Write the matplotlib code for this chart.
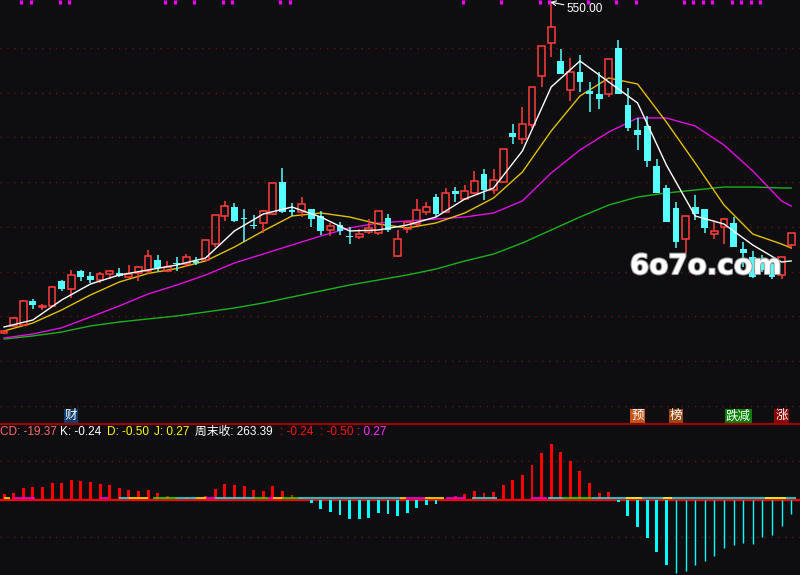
import numpy as np
import matplotlib
matplotlib.use('Agg')
import matplotlib.pyplot as plt
import matplotlib.patheffects as pe
from matplotlib.lines import Line2D

plt.rcParams['font.family'] = ['Liberation Sans', 'Noto Sans CJK SC']

# weekly candles (open, high, low, close)
opens = [139.6, 148.3, 149.5, 179.3, 171.8, 173.1, 204.1, 194.1, 216.5, 210.3,
         205.3, 212.7, 214.0, 209.0, 214.0, 216.5, 230.1, 216.5, 226.4, 225.1,
         228.9, 230.1, 249.9, 284.7, 295.8, 282.2, 273.5, 276.0, 287.1, 326.8,
         292.1, 289.6, 293.3, 284.7, 267.3, 273.5, 259.9, 258.6, 264.8, 263.6,
         282.2, 235.1, 268.5, 274.7, 289.6, 308.2, 289.6, 315.7, 305.7, 313.2,
         336.7, 316.9, 326.8, 387.6, 380.1, 397.5, 458.3, 499.2, 476.9, 440.9,
         463.2, 439.7, 435.9, 435.9, 493.0, 422.3, 391.3, 396.3, 346.7, 319.4,
         294.6, 256.1, 295.8, 293.3, 262.3, 271.0, 276.0, 243.7, 233.8, 231.3,
         225.1, 211.5, 248.7]
highs = [143.3, 159.4, 180.5, 181.7, 175.5, 197.9, 205.3, 217.7, 217.7, 215.2,
         215.2, 217.7, 220.2, 223.9, 222.7, 242.5, 236.3, 228.9, 233.8, 237.5,
         233.8, 254.9, 285.9, 303.3, 300.8, 293.3, 285.9, 292.1, 325.6, 344.2,
         300.8, 308.2, 293.3, 290.9, 276.0, 277.2, 271.0, 268.5, 280.9, 290.9,
         287.1, 267.3, 277.2, 305.7, 302.0, 311.9, 319.4, 320.6, 323.1, 340.5,
         342.9, 342.9, 367.7, 398.7, 419.8, 444.6, 495.5, 550.0, 491.7, 480.6,
         484.3, 450.8, 463.2, 479.3, 502.9, 443.4, 406.2, 408.7, 355.3, 323.1,
         302.0, 284.7, 310.7, 293.3, 279.7, 282.2, 283.4, 252.4, 241.3, 236.3,
         227.6, 233.8, 263.6]
lows = [138.3, 148.3, 148.3, 169.3, 168.1, 171.8, 191.7, 183.0, 204.1, 201.6,
        201.6, 206.5, 209.0, 207.8, 204.1, 212.7, 216.5, 215.2, 216.5, 221.4,
        223.9, 228.9, 246.2, 278.5, 277.2, 252.4, 268.5, 263.6, 285.9, 288.4,
        284.7, 283.4, 271.0, 261.1, 259.9, 261.1, 249.9, 256.1, 262.3, 261.1,
        264.8, 233.8, 263.6, 272.3, 285.9, 283.4, 288.4, 302.0, 304.5, 311.9,
        304.5, 311.9, 325.6, 373.9, 373.9, 393.8, 444.6, 481.8, 460.7, 427.3,
        438.4, 413.6, 417.3, 432.2, 435.9, 390.1, 366.5, 345.4, 313.2, 277.2,
        245.0, 238.8, 279.7, 263.6, 256.1, 249.9, 246.2, 221.4, 207.8, 215.2,
        206.5, 206.5, 243.7]
closes = [142.1, 158.2, 179.3, 174.3, 173.1, 196.6, 194.1, 211.5, 209.0, 205.3,
          212.7, 216.5, 210.3, 212.7, 221.4, 235.1, 220.2, 221.4, 225.1, 233.8,
          226.4, 254.9, 285.9, 297.1, 278.5, 280.9, 272.3, 290.9, 325.6, 289.6,
          289.6, 299.5, 280.9, 266.1, 272.3, 266.1, 258.6, 262.3, 269.8, 290.9,
          267.3, 256.1, 277.2, 292.1, 295.8, 287.1, 313.2, 311.9, 315.7, 328.1,
          316.9, 329.3, 367.7, 382.6, 398.7, 444.6, 495.5, 519.0, 460.7, 463.2,
          450.8, 435.9, 429.7, 479.3, 435.9, 393.8, 385.1, 352.9, 313.2, 277.2,
          252.4, 284.7, 287.1, 269.8, 266.1, 280.9, 246.2, 238.8, 209.0, 217.7,
          209.0, 233.8, 263.39]

# moving averages sampled every third week
ma_idx = [0, 3, 6, 9, 12, 15, 18, 21, 24, 27, 30, 33, 36, 39, 42, 45, 48, 51,
          54, 57, 60, 63, 66, 69, 72, 75, 78, 81, 82]
ma5 = [147.0, 155.7, 180.5, 200.3, 211.5, 217.7, 223.9, 232.6, 266.1, 287.1,
       295.8, 283.4, 266.1, 267.3, 273.5, 283.4, 305.7, 319.4, 365.3, 444.6,
       476.9, 450.8, 424.8, 347.9, 284.7, 274.7, 248.7, 227.6, 228.9]
ma10 = [142.1, 152.0, 168.1, 186.7, 202.8, 213.4, 219.6, 228.9, 246.2, 266.1,
        284.7, 288.4, 283.4, 274.7, 269.8, 276.0, 288.4, 307.0, 339.2, 390.1,
        433.5, 455.8, 448.3, 401.2, 350.4, 298.3, 262.3, 249.9, 245.0]
ma20 = [133.4, 138.3, 146.0, 159.4, 173.1, 187.9, 199.1, 211.5, 226.4, 237.5,
        248.7, 259.9, 269.8, 276.0, 278.5, 280.9, 283.4, 288.4, 303.3, 338.0,
        366.5, 388.8, 406.2, 406.2, 396.3, 372.7, 340.5, 303.3, 297.1]
ma60 = [132.1, 135.9, 140.8, 148.3, 153.2, 157.0, 160.7, 165.6, 170.6, 176.8,
        184.2, 191.7, 199.1, 205.3, 211.5, 218.9, 228.9, 237.5, 251.2, 267.3,
        283.4, 298.3, 308.2, 313.2, 316.9, 320.6, 320.6, 319.4, 319.4]

# lower panel histogram
macd_hist = [6, 7, 12, 13, 13, 17, 17, 20, 19, 18, 16, 15, 12, 10, 9, 10, 7, 4, 3, 3,
             0.5, 4, 11, 16, 15, 14, 10, 9, 14, 9, 5, 3, -3, -9, -12, -15, -19, -19, -18, -13,
             -14, -16, -13, -8, -5, -4, 0.3, 4, 6, 9, 7, 8, 15, 20, 25, 35, 47, 56, 48, 39,
             29, 17, 7, 8, -2, -16, -27, -38, -52, -65, -73, -71, -65, -61, -56, -48, -45, -43, -44, -37,
             -35, -26, -14]
thin_from = 70

zero_spans = [(0, 0.6, 'y'), (1, 3.2, 'm'), (10, 10.8, 'm'), (12, 13, 'c'), (13, 15, 'y'),
              (15.5, 18, 'g'), (18, 20, 'c'), (20, 21, 'y'), (21, 22, 'm'), (22, 26, 'c'),
              (26, 27.5, 'g'), (27.5, 28, 'm'), (28, 29, 'y'), (29, 30.6, 'g'), (30.6, 41.2, 'c'),
              (41.2, 41.9, 'y'), (41.9, 43.9, 'm'), (43.9, 45.8, 'y'), (46, 48, 'm'), (48.8, 51.4, 'c'),
              (54.9, 56.6, 'm'), (56.7, 58.2, 'c'), (58.2, 61.3, 'g'), (61.3, 82.5, 'c'),
              (64.8, 66.5, 'y'), (68.6, 69.6, 'y'), (79.3, 81.5, 'y')]

signal_weeks = [2, 3, 6, 7, 17, 18, 20, 23, 24, 29, 30, 48, 52, 56, 57, 61, 64, 66,
                71, 72, 73, 74, 76, 77, 78, 79]

event_text = ['财', '预', '榜', '跌减', '涨']
event_week = [7, 66, 70, 76.5, 81]
event_bg = ['#0b3d6e', '#c4561c', '#9c4a12', '#058005', '#8a0000']

info_text = ['CD: -19.37', 'K: -0.24', 'D: -0.50', 'J: 0.27', '周末收: 263.39',
             ': -0.24', ': -0.50', ': 0.27']
info_color = ['#ff6a6a', '#ffffff', '#ffff00', '#ffff00', '#ffffff',
              '#ff1010', '#ff1010', '#ff30ff']
info_x = [0, 60, 107, 154, 195, 280, 320, 357]

BG = '#0e0e11'
RED = '#ff3d3d'
CYAN = '#55ffff'
GRID = '#6e1010'
SPAN_COL = {'y': '#ffff00', 'm': '#ff00ff', 'c': '#00ffff', 'g': '#00ff00'}

# price axis scale: 1.24 per pixel, top of figure = 552.5
TOP = 552.5
PPX = 1.24


def price_at(px):
    return TOP - PPX * px


fig = plt.figure(figsize=(8, 5.75), dpi=100, facecolor=BG)
ax = fig.add_axes([0, 151 / 575, 1, 424 / 575])
sub = fig.add_axes([0, 0, 1, 151 / 575])
for a in (ax, sub):
    a.set_facecolor(BG)
    a.set_axis_off()
    a.set_xlim(-0.42, 82.92)
ax.set_ylim(price_at(424), TOP)
sub.set_ylim(-75, 76)

# dotted grid
for gy in 48 + 44.7 * np.arange(9):
    ax.axhline(price_at(gy), color=GRID, lw=1, ls=(0, (1, 4)), zorder=0)
for gy in (39, -37):
    sub.axhline(gy, color=GRID, lw=1, ls=(0, (1, 4)), zorder=0)

# candles
w = 0.72
for i, (o, h, l, c) in enumerate(zip(opens, highs, lows, closes)):
    top, bot = max(o, c), min(o, c)
    if top - bot < PPX:
        top = bot + PPX
    if c >= o:
        ax.bar(i, top - bot, bottom=bot, width=w, fill=False, edgecolor=RED, lw=1.1, zorder=3)
        if h > top:
            ax.vlines(i, top, h, color=RED, lw=1.1, zorder=3)
        if l < bot:
            ax.vlines(i, l, bot, color=RED, lw=1.1, zorder=3)
    else:
        ax.vlines(i, l, h, color=CYAN, lw=1.1, zorder=3)
        ax.bar(i, top - bot, bottom=bot, width=w, color=CYAN, lw=0, zorder=3)

# moving averages
ax.plot(ma_idx, ma60, color='#1cb01c', lw=1.0, zorder=2)
ax.plot(ma_idx, ma20, color='#e010e0', lw=1.0, zorder=2)
ax.plot(ma_idx, ma10, color='#e0c000', lw=1.0, zorder=2)
ax.plot(ma_idx, ma5, color='#ffffff', lw=1.0, zorder=4)

# high label
ax.annotate('550.00', xy=(56.9, highs[57]), xytext=(58.6, price_at(9)),
            color='white', fontsize=8.5, ha='left', va='center',
            arrowprops=dict(arrowstyle='->', color='white', lw=0.8, shrinkA=0, shrinkB=0))

# signal marks along the top edge
ax.vlines(np.array(signal_weeks) - 0.2, price_at(3.5), TOP, color='#ff00ff', lw=2.3, zorder=5)

# event tags
for t, xw, bg in zip(event_text, event_week, event_bg):
    ax.text(xw, price_at(416), t, color='white', fontsize=9, ha='center', va='center',
            bbox=dict(boxstyle='square,pad=0.08', fc=bg, ec='none'), zorder=6)

# watermark
ax.text(65.2, price_at(266), '6o7o.com', color='white', fontsize=20, fontweight='bold',
        ha='left', va='center', family='DejaVu Sans', zorder=7,
        path_effects=[pe.withStroke(linewidth=1.5, foreground='#9a9a9a')])

# lower panel
hist = np.array(macd_hist, dtype=float)
idx = np.arange(len(hist))
thick = idx < thin_from
cols = np.where(hist >= 0, '#ff0000', '#00ffff')
sub.bar(idx[thick], hist[thick], width=0.31, color=cols[thick], lw=0, zorder=3)
sub.vlines(idx[~thick], 0, hist[~thick], color='#00ffff', lw=1.0, zorder=3)
sub.axhline(0, color='#ff0000', lw=1.6, zorder=2)
for x0, x1, k in zero_spans:
    sub.plot([x0, x1], [1.8, 1.8], color=SPAN_COL[k], lw=1.1, zorder=4, solid_capstyle='butt')

# separator line between panels
fig.add_artist(Line2D([0, 1], [151 / 575, 151 / 575], color='#9b0000', lw=1.6))

for t, c, xp in zip(info_text, info_color, info_x):
    fig.text(xp / 800, 1 - 432 / 575, t, color=c, fontsize=8.5, ha='left', va='center')

fig.savefig('out.png', dpi=100, facecolor=BG)
